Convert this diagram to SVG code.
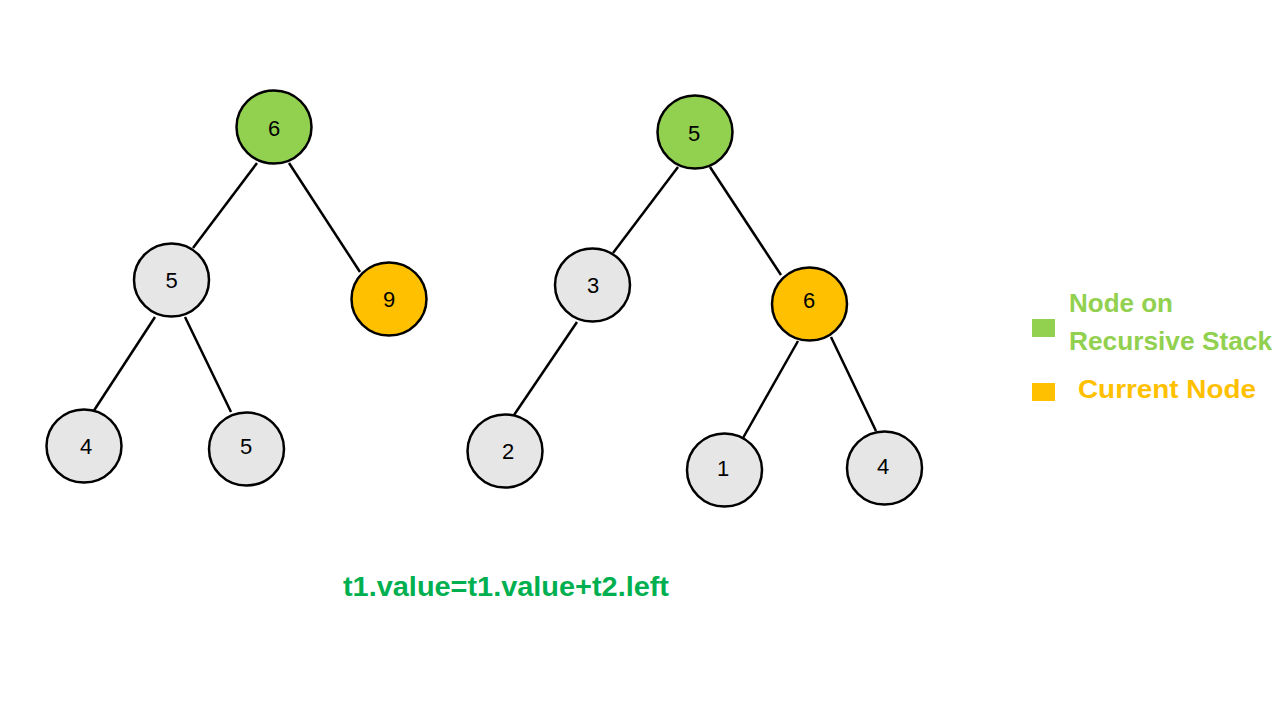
<svg xmlns="http://www.w3.org/2000/svg" width="1280" height="720" viewBox="0 0 1280 720">
<style>
.n{stroke:#000;stroke-width:2.5}
.g{fill:#E6E6E6}
.gr{fill:#92D050}
.or{fill:#FFC000}
.lbl{font-family:"Liberation Sans",Arial,sans-serif;font-size:22px;fill:#000;text-anchor:middle}
.e{stroke:#000;stroke-width:2.5;fill:none}
.leg{font-family:"Liberation Sans",Arial,sans-serif;font-size:26px;font-weight:bold}
</style>
<rect width="1280" height="720" fill="#fff"/>
<g id="connectors">
<line class="e" x1="257" y1="163" x2="193" y2="248"/>
<line class="e" x1="289" y1="163" x2="360" y2="272"/>
<line class="e" x1="155" y1="317" x2="93" y2="412"/>
<line class="e" x1="185" y1="317" x2="231" y2="412"/>
<line class="e" x1="678" y1="167" x2="613" y2="253"/>
<line class="e" x1="710" y1="167" x2="781" y2="275"/>
<line class="e" x1="577" y1="322" x2="514" y2="415"/>
<line class="e" x1="798" y1="341" x2="743" y2="438"/>
<line class="e" x1="831" y1="337" x2="876" y2="431"/>
</g>
<g id="L6"><ellipse class="n gr" cx="274" cy="127" rx="37.5" ry="36.5"/><text class="lbl" x="274" y="136">6</text></g>
<g id="L5"><ellipse class="n g" cx="171.5" cy="280" rx="37.5" ry="36.5"/><text class="lbl" x="171.5" y="288">5</text></g>
<g id="L9"><ellipse class="n or" cx="389" cy="299" rx="37.5" ry="36.5"/><text class="lbl" x="389" y="307">9</text></g>
<g id="L4"><ellipse class="n g" cx="84" cy="446" rx="37.5" ry="36.5"/><text class="lbl" x="86" y="454">4</text></g>
<g id="L5b"><ellipse class="n g" cx="246.5" cy="449" rx="37.5" ry="36.5"/><text class="lbl" x="246" y="454">5</text></g>
<g id="R5"><ellipse class="n gr" cx="695" cy="132" rx="37.5" ry="36.5"/><text class="lbl" x="694" y="141">5</text></g>
<g id="R3"><ellipse class="n g" cx="592.5" cy="285" rx="37.5" ry="36.5"/><text class="lbl" x="593" y="293">3</text></g>
<g id="R6"><ellipse class="n or" cx="809.5" cy="304" rx="37.5" ry="36.5"/><text class="lbl" x="809" y="308">6</text></g>
<g id="R2"><ellipse class="n g" cx="505" cy="451" rx="37.5" ry="36.5"/><text class="lbl" x="508" y="459">2</text></g>
<g id="R1"><ellipse class="n g" cx="724.5" cy="470" rx="37.5" ry="36.5"/><text class="lbl" x="723" y="476">1</text></g>
<g id="R4"><ellipse class="n g" cx="884.5" cy="468" rx="37.5" ry="36.5"/><text class="lbl" x="883" y="474">4</text></g>
<g id="legend">
<rect x="1032" y="319" width="23" height="18" fill="#92D050"/>
<rect x="1032" y="383" width="23" height="18" fill="#FFC000"/>
<text class="leg" x="1069" y="312" fill="#92D050">Node on</text>
<text class="leg" x="1069" y="350" fill="#92D050" textLength="203" lengthAdjust="spacingAndGlyphs">Recursive Stack</text>
<text class="leg" x="1078" y="398" fill="#FFC000" textLength="178" lengthAdjust="spacingAndGlyphs">Current Node</text>
</g>
<text x="343" y="596" font-family="'Liberation Sans',Arial,sans-serif" font-size="28" font-weight="bold" fill="#00B050" textLength="326" lengthAdjust="spacingAndGlyphs">t1.value=t1.value+t2.left</text>
</svg>
